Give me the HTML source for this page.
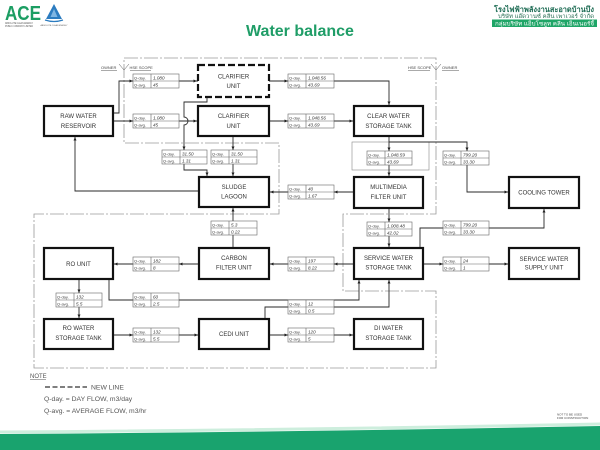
<!DOCTYPE html>
<html><head><meta charset="utf-8"><style>
html,body{margin:0;padding:0;background:#fff;}
svg{display:block;}
.bx{font-family:"Liberation Sans",sans-serif;font-size:6px;fill:#333;text-anchor:middle;}
.tl{font-family:"Liberation Sans",sans-serif;font-size:4px;fill:#444;}
.tv{font-family:"Liberation Sans",sans-serif;font-size:4.6px;font-style:italic;fill:#333;}
.sm{font-family:"Liberation Sans",sans-serif;font-size:4px;fill:#444;}
.nt{font-family:"Liberation Sans",sans-serif;font-size:6.8px;fill:#555;}
.tb rect{fill:#fff;stroke:#666;stroke-width:0.6;}
.tb path{stroke:#666;stroke-width:0.6;fill:none;}
.box{fill:#fff;stroke:#111;stroke-width:2.2;}
.cn{fill:none;stroke:#2a2a2a;stroke-width:0.9;}
.ar{fill:#222;}
</style></head><body>
<svg width="600" height="450" viewBox="0 0 600 450" xmlns="http://www.w3.org/2000/svg">
<rect width="600" height="450" fill="#fff"/>

<!-- Header -->
<text x="5" y="20" font-family="Liberation Sans, sans-serif" font-weight="bold" font-size="20" fill="#1c9e63" textLength="36" lengthAdjust="spacingAndGlyphs">ACE</text>
<text x="5" y="24" font-family="Liberation Sans, sans-serif" font-size="2.6" fill="#555" textLength="28" lengthAdjust="spacingAndGlyphs">ABSOLUTE CLEAN ENERGY</text>
<text x="5" y="27" font-family="Liberation Sans, sans-serif" font-size="2.6" fill="#555" textLength="28" lengthAdjust="spacingAndGlyphs">PUBLIC COMPANY LIMITED</text>
<polygon points="54,4 62,19 46,19" fill="#2c7cc0"/>
<polygon points="54,9 57.5,17 50.5,17" fill="#7fb6e3"/>
<path d="M45,20 Q54,23 63,20" stroke="#2c7cc0" stroke-width="1.2" fill="none"/>
<text x="54" y="26" font-family="Liberation Sans, sans-serif" font-size="2" fill="#555" text-anchor="middle">ABSOLUTE CLEAN ENERGY</text>

<text x="300" y="36" font-family="Liberation Sans, sans-serif" font-weight="bold" font-size="16" fill="#1f9d67" text-anchor="middle">Water balance</text>

<text x="494" y="12" font-family="Liberation Sans, 'DejaVu Sans', sans-serif" font-size="7.5" font-weight="bold" fill="#1c6b53" textLength="100" lengthAdjust="spacingAndGlyphs">โรงไฟฟ้าพลังงานสะอาดบ้านบึง</text>
<text x="498" y="17.8" font-family="Liberation Sans, 'DejaVu Sans', sans-serif" font-size="5.5" fill="#2a6f55" textLength="96" lengthAdjust="spacingAndGlyphs">บริษัท แอ๊ดวานซ์ คลีน เพาเวอร์ จำกัด</text>
<rect x="492" y="19.5" width="105" height="7.5" fill="#1fa567"/>
<text x="495" y="25.4" font-family="Liberation Sans, 'DejaVu Sans', sans-serif" font-size="5.5" fill="#fff" textLength="99" lengthAdjust="spacingAndGlyphs">กลุ่มบริษัท แอ็บโซลูท คลีน เอ็นเนอร์จี้</text>

<!-- Scope boundary dash-dot -->
<path d="M124,58 H436 V214 H343 V291 H436 V368 H34 V214 H279 V143 H124 Z" fill="none" stroke="#9a9a9a" stroke-width="0.8" stroke-dasharray="14,2,2,2"/>

<!-- Owner/HSE markers -->
<text x="101" y="69" class="sm">OWNER</text>
<text x="129.5" y="69" class="sm">HSE SCOPE</text>
<path d="M101,70.5 H117 M130,70.5 H151 M119,64 L124,70 L129,64" stroke="#555" stroke-width="0.5" fill="none"/>
<text x="408" y="69" class="sm">HSE SCOPE</text>
<text x="442" y="69" class="sm">OWNER</text>
<path d="M408,70.5 H430 M442,70.5 H459 M431,64 L436,70 L441,64" stroke="#555" stroke-width="0.5" fill="none"/>

<!-- gray rect around clear water outlet -->
<rect x="352" y="142" width="77" height="28" fill="none" stroke="#888" stroke-width="0.6"/>

<!-- Connectors -->
<path class="cn" d="M113,113 H119 V81 H198"/>
<path class="cn" d="M113,121 H198"/>
<path class="cn" d="M269,81 H389 V106"/>
<path class="cn" d="M269,121 H354"/>
<path class="cn" d="M207,97 V102 H184 V117 A4,4 0 0 1 184,125 V170 H207 V177" stroke="#555"/>
<path class="cn" d="M233,136 V177"/>
<path class="cn" d="M389,136 V177"/>
<path class="cn" d="M389,142 H467 V192 H509"/>
<path class="cn" d="M354,192 H269"/>
<path class="cn" d="M199,191 H75 V136"/>
<path class="cn" d="M389,208 V248"/>
<path class="cn" d="M420,248 V228 H544 V208"/>
<path class="cn" d="M423,264 H509"/>
<path class="cn" d="M354,264 H269"/>
<path class="cn" d="M233,248 V207"/>
<path class="cn" d="M199,264 H113"/>
<path class="cn" d="M79,279 V319"/>
<path class="cn" d="M109,279 V300 H359 V279"/>
<path class="cn" d="M113,335 H199"/>
<path class="cn" d="M265,319 V307 H389 V279"/>
<path class="cn" d="M269,335 H354"/>

<!-- Tables -->
<g class="tb" transform="translate(133,74)"><rect width="46" height="14"/><path d="M18,0V14M0,7H46"/><text x="1" y="5.6" class="tl">Q-day.</text><text x="1" y="12.6" class="tl">Q-avg.</text><text x="20" y="5.6" class="tv">1,080</text><text x="20" y="12.6" class="tv">45</text></g>
<g class="tb" transform="translate(133,114)"><rect width="46" height="14"/><path d="M18,0V14M0,7H46"/><text x="1" y="5.6" class="tl">Q-day.</text><text x="1" y="12.6" class="tl">Q-avg.</text><text x="20" y="5.6" class="tv">1,080</text><text x="20" y="12.6" class="tv">45</text></g>
<g class="tb" transform="translate(288,74)"><rect width="46" height="14"/><path d="M18,0V14M0,7H46"/><text x="1" y="5.6" class="tl">Q-day.</text><text x="1" y="12.6" class="tl">Q-avg.</text><text x="20" y="5.6" class="tv">1,048.56</text><text x="20" y="12.6" class="tv">43.69</text></g>
<g class="tb" transform="translate(288,114)"><rect width="46" height="14"/><path d="M18,0V14M0,7H46"/><text x="1" y="5.6" class="tl">Q-day.</text><text x="1" y="12.6" class="tl">Q-avg.</text><text x="20" y="5.6" class="tv">1,048.56</text><text x="20" y="12.6" class="tv">43.69</text></g>
<g class="tb" transform="translate(162,150)"><rect width="45" height="14"/><path d="M18,0V14M0,7H45"/><text x="1" y="5.6" class="tl">Q-day.</text><text x="1" y="12.6" class="tl">Q-avg.</text><text x="20" y="5.6" class="tv">31.50</text><text x="20" y="12.6" class="tv">1.31</text></g>
<g class="tb" transform="translate(211,150)"><rect width="46" height="14"/><path d="M18,0V14M0,7H46"/><text x="1" y="5.6" class="tl">Q-day.</text><text x="1" y="12.6" class="tl">Q-avg.</text><text x="20" y="5.6" class="tv">31.50</text><text x="20" y="12.6" class="tv">1.31</text></g>
<g class="tb" transform="translate(367,151)"><rect width="45" height="14"/><path d="M18,0V14M0,7H45"/><text x="1" y="5.6" class="tl">Q-day.</text><text x="1" y="12.6" class="tl">Q-avg.</text><text x="20" y="5.6" class="tv">1,048.59</text><text x="20" y="12.6" class="tv">43.69</text></g>
<g class="tb" transform="translate(443,151)"><rect width="46" height="14"/><path d="M18,0V14M0,7H46"/><text x="1" y="5.6" class="tl">Q-day.</text><text x="1" y="12.6" class="tl">Q-avg.</text><text x="20" y="5.6" class="tv">799.20</text><text x="20" y="12.6" class="tv">33.30</text></g>
<g class="tb" transform="translate(288,185)"><rect width="46" height="14"/><path d="M18,0V14M0,7H46"/><text x="1" y="5.6" class="tl">Q-day.</text><text x="1" y="12.6" class="tl">Q-avg.</text><text x="20" y="5.6" class="tv">40</text><text x="20" y="12.6" class="tv">1.67</text></g>
<g class="tb" transform="translate(367,222)"><rect width="45" height="14"/><path d="M18,0V14M0,7H45"/><text x="1" y="5.6" class="tl">Q-day.</text><text x="1" y="12.6" class="tl">Q-avg.</text><text x="20" y="5.6" class="tv">1,008.48</text><text x="20" y="12.6" class="tv">42.02</text></g>
<g class="tb" transform="translate(443,221)"><rect width="46" height="14"/><path d="M18,0V14M0,7H46"/><text x="1" y="5.6" class="tl">Q-day.</text><text x="1" y="12.6" class="tl">Q-avg.</text><text x="20" y="5.6" class="tv">799.20</text><text x="20" y="12.6" class="tv">33.30</text></g>
<g class="tb" transform="translate(211,221)"><rect width="46" height="14"/><path d="M18,0V14M0,7H46"/><text x="1" y="5.6" class="tl">Q-day.</text><text x="1" y="12.6" class="tl">Q-avg.</text><text x="20" y="5.6" class="tv">5.3</text><text x="20" y="12.6" class="tv">0.22</text></g>
<g class="tb" transform="translate(443,257)"><rect width="46" height="14"/><path d="M18,0V14M0,7H46"/><text x="1" y="5.6" class="tl">Q-day.</text><text x="1" y="12.6" class="tl">Q-avg.</text><text x="20" y="5.6" class="tv">24</text><text x="20" y="12.6" class="tv">1</text></g>
<g class="tb" transform="translate(288,257)"><rect width="46" height="14"/><path d="M18,0V14M0,7H46"/><text x="1" y="5.6" class="tl">Q-day.</text><text x="1" y="12.6" class="tl">Q-avg.</text><text x="20" y="5.6" class="tv">197</text><text x="20" y="12.6" class="tv">8.22</text></g>
<g class="tb" transform="translate(133,257)"><rect width="46" height="14"/><path d="M18,0V14M0,7H46"/><text x="1" y="5.6" class="tl">Q-day.</text><text x="1" y="12.6" class="tl">Q-avg.</text><text x="20" y="5.6" class="tv">182</text><text x="20" y="12.6" class="tv">8</text></g>
<g class="tb" transform="translate(56,293)"><rect width="46" height="14"/><path d="M18,0V14M0,7H46"/><text x="1" y="5.6" class="tl">Q-day.</text><text x="1" y="12.6" class="tl">Q-avg.</text><text x="20" y="5.6" class="tv">132</text><text x="20" y="12.6" class="tv">5.5</text></g>
<g class="tb" transform="translate(133,293)"><rect width="46" height="14"/><path d="M18,0V14M0,7H46"/><text x="1" y="5.6" class="tl">Q-day.</text><text x="1" y="12.6" class="tl">Q-avg.</text><text x="20" y="5.6" class="tv">60</text><text x="20" y="12.6" class="tv">2.5</text></g>
<g class="tb" transform="translate(288,300)"><rect width="46" height="14"/><path d="M18,0V14M0,7H46"/><text x="1" y="5.6" class="tl">Q-day.</text><text x="1" y="12.6" class="tl">Q-avg.</text><text x="20" y="5.6" class="tv">12</text><text x="20" y="12.6" class="tv">0.5</text></g>
<g class="tb" transform="translate(133,328)"><rect width="46" height="14"/><path d="M18,0V14M0,7H46"/><text x="1" y="5.6" class="tl">Q-day.</text><text x="1" y="12.6" class="tl">Q-avg.</text><text x="20" y="5.6" class="tv">132</text><text x="20" y="12.6" class="tv">5.5</text></g>
<g class="tb" transform="translate(288,328)"><rect width="46" height="14"/><path d="M18,0V14M0,7H46"/><text x="1" y="5.6" class="tl">Q-day.</text><text x="1" y="12.6" class="tl">Q-avg.</text><text x="20" y="5.6" class="tv">120</text><text x="20" y="12.6" class="tv">5</text></g>

<!-- Boxes -->
<rect class="box" x="44" y="106" width="69" height="30"/>
<rect x="198" y="65" width="71" height="32" fill="#fff" stroke="#111" stroke-width="2.2" stroke-dasharray="7,3"/>
<rect class="box" x="198" y="106" width="71" height="30"/>
<rect class="box" x="354" y="106" width="69" height="30"/>
<rect class="box" x="199" y="177" width="70" height="30"/>
<rect class="box" x="354" y="177" width="69" height="31"/>
<rect class="box" x="509" y="177" width="70" height="31"/>
<rect class="box" x="44" y="248" width="69" height="31"/>
<rect class="box" x="199" y="248" width="70" height="31"/>
<rect class="box" x="354" y="248" width="69" height="31"/>
<rect class="box" x="509" y="248" width="70" height="31"/>
<rect class="box" x="44" y="319" width="69" height="30"/>
<rect class="box" x="199" y="319" width="70" height="30"/>
<rect class="box" x="354" y="319" width="69" height="30"/>

<!-- Arrowheads -->
<g class="ar">
<polygon points="133,81 129.5,79.5 129.5,82.5"/>
<polygon points="197,81 193.5,79.5 193.5,82.5"/>
<polygon points="133,121 129.5,119.5 129.5,122.5"/>
<polygon points="197,121 193.5,119.5 193.5,122.5"/>
<polygon points="288,81 284.5,79.5 284.5,82.5"/>
<polygon points="389,105 387.5,101.5 390.5,101.5"/>
<polygon points="288,121 284.5,119.5 284.5,122.5"/>
<polygon points="353,121 349.5,119.5 349.5,122.5"/>
<polygon points="184,150 182.5,146.5 185.5,146.5"/>
<polygon points="207,176 205.5,172.5 208.5,172.5"/>
<polygon points="233,150 231.5,146.5 234.5,146.5"/>
<polygon points="233,176 231.5,172.5 234.5,172.5"/>
<polygon points="389,151 387.5,147.5 390.5,147.5"/>
<polygon points="389,176 387.5,172.5 390.5,172.5"/>
<polygon points="467,151 465.5,147.5 468.5,147.5"/>
<polygon points="508,192 504.5,190.5 504.5,193.5"/>
<polygon points="334,192 337.5,190.5 337.5,193.5"/>
<polygon points="270,192 273.5,190.5 273.5,193.5"/>
<polygon points="75,137 73.5,140.5 76.5,140.5"/>
<polygon points="389,222 387.5,218.5 390.5,218.5"/>
<polygon points="389,247 387.5,243.5 390.5,243.5"/>
<polygon points="544,209 542.5,212.5 545.5,212.5"/>
<polygon points="443,264 439.5,262.5 439.5,265.5"/>
<polygon points="508,264 504.5,262.5 504.5,265.5"/>
<polygon points="334,264 337.5,262.5 337.5,265.5"/>
<polygon points="270,264 273.5,262.5 273.5,265.5"/>
<polygon points="233,208 231.5,211.5 234.5,211.5"/>
<polygon points="179,264 182.5,262.5 182.5,265.5"/>
<polygon points="114,264 117.5,262.5 117.5,265.5"/>
<polygon points="79,293 77.5,289.5 80.5,289.5"/>
<polygon points="79,318 77.5,314.5 80.5,314.5"/>
<polygon points="359,280 357.5,283.5 360.5,283.5"/>
<polygon points="133,335 129.5,333.5 129.5,336.5"/>
<polygon points="198,335 194.5,333.5 194.5,336.5"/>
<polygon points="389,280 387.5,283.5 390.5,283.5"/>
<polygon points="288,335 284.5,333.5 284.5,336.5"/>
<polygon points="353,335 349.5,333.5 349.5,336.5"/>
</g>

<!-- Box labels -->
<text class="bx" x="78.5" y="118">RAW WATER</text><text class="bx" x="78.5" y="128">RESERVOIR</text>
<text class="bx" x="233.5" y="78.5">CLARIFIER</text><text class="bx" x="233.5" y="88">UNIT</text>
<text class="bx" x="233.5" y="118">CLARIFIER</text><text class="bx" x="233.5" y="128">UNIT</text>
<text class="bx" x="388.5" y="118">CLEAR  WATER</text><text class="bx" x="388.5" y="128">STORAGE TANK</text>
<text class="bx" x="234" y="189">SLUDGE</text><text class="bx" x="234" y="198.5">LAGOON</text>
<text class="bx" x="388.5" y="189">MULTIMEDIA</text><text class="bx" x="388.5" y="199">FILTER UNIT</text>
<text class="bx" x="544" y="194.5">COOLING TOWER</text>
<text class="bx" x="78.5" y="266">RO  UNIT</text>
<text class="bx" x="234" y="260">CARBON</text><text class="bx" x="234" y="269.5">FILTER UNIT</text>
<text class="bx" x="388.5" y="260">SERVICE WATER</text><text class="bx" x="388.5" y="269.5">STORAGE TANK</text>
<text class="bx" x="544" y="261">SERVICE WATER</text><text class="bx" x="544" y="269.5">SUPPLY UNIT</text>
<text class="bx" x="78.5" y="330">RO  WATER</text><text class="bx" x="78.5" y="340">STORAGE TANK</text>
<text class="bx" x="234" y="336">CEDI UNIT</text>
<text class="bx" x="388.5" y="330">DI WATER</text><text class="bx" x="388.5" y="340">STORAGE TANK</text>

<!-- Note -->
<text x="30" y="378" font-family="Liberation Sans, sans-serif" font-size="6" fill="#555">NOTE</text>
<path d="M30,379.5 H46" stroke="#555" stroke-width="0.5"/>
<path d="M45,387 H87" stroke="#333" stroke-width="1.3" stroke-dasharray="5,2.5"/>
<text x="91" y="389.5" class="nt">NEW LINE</text>
<text x="44" y="401" class="nt">Q-day. = DAY FLOW, m3/day</text>
<text x="44" y="413" class="nt">Q-avg. = AVERAGE FLOW, m3/hr</text>
<text x="557" y="415.5" font-family="Liberation Sans, sans-serif" font-size="3" fill="#444">NOT TO BE USED</text>
<text x="557" y="419" font-family="Liberation Sans, sans-serif" font-size="3" fill="#444">FOR CONSTRUCTION</text>

<!-- Bottom green band -->
<path d="M0,432 Q300,430 600,424" stroke="#cdeedd" stroke-width="3" fill="none"/>
<path d="M0,434 Q300,432 600,426 L600,450 L0,450 Z" fill="#19a36e"/>
</svg>
</body></html>
